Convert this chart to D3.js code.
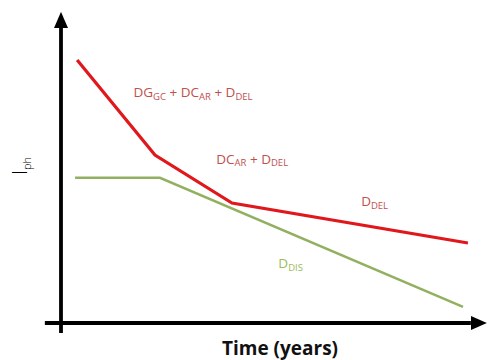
<!DOCTYPE html>
<html>
<head>
<meta charset="utf-8">
<script src="https://cdn.jsdelivr.net/npm/d3@7"></script>
<style>
  body { margin: 0; background: #fff; }
  text { font-family: "Open Sans", "DejaVu Sans", sans-serif; }
</style>
</head>
<body>
<svg id="chart" width="488" height="360"></svg>
<script>
// arbitrary units (0..100 on both axes)
var redTime  = [3.9, 22.7, 41.3, 98.3];
var redIph   = [86.8, 55.4, 39.6, 26.4];
var greenTime = [3.4, 23.9, 97.1];
var greenIph  = [47.9, 47.9, 5.3];

var labels = [
  {parts: [["DG", ""], ["GC", "sub"], [" + DC", ""], ["AR", "sub"], [" + D", ""], ["DEL", "sub"]], t: 17.5, v: 74.5, color: "#c0504d"},
  {parts: [["DC", ""], ["AR", "sub"], [" + D", ""], ["DEL", "sub"]], t: 37.5, v: 52.5, color: "#c0504d"},
  {parts: [["D", ""], ["DEL", "sub"]], t: 72.5, v: 38.5, color: "#c0504d"},
  {parts: [["D", ""], ["DIS", "sub"]], t: 52.5, v: 18, color: "#9bbb59"}
];

var svg = d3.select("#chart");

var x = d3.scaleLinear().domain([0, 100]).range([61, 475]);
var y = d3.scaleLinear().domain([0, 100]).range([323, 20]);

svg.append("defs").append("marker")
    .attr("id", "arrow")
    .attr("viewBox", "0 0 16 14")
    .attr("markerUnits", "userSpaceOnUse")
    .attr("refX", 0).attr("refY", 7)
    .attr("markerWidth", 16).attr("markerHeight", 14)
    .attr("orient", "auto")
    .append("path")
    .attr("d", "M0,0 L16,7 L0,14 Z")
    .attr("fill", "#000");

// axes (arrow tips at 12px from top and 487px from left)
svg.append("line")
    .attr("x1", x(0)).attr("y1", y(-3.3))
    .attr("x2", x(0)).attr("y2", y(97.4))
    .attr("stroke", "#000").attr("stroke-width", 3.8)
    .attr("marker-end", "url(#arrow)");

svg.append("line")
    .attr("x1", x(-3.9)).attr("y1", y(0))
    .attr("x2", x(99)).attr("y2", y(0))
    .attr("stroke", "#000").attr("stroke-width", 3.8)
    .attr("marker-end", "url(#arrow)");

var line = d3.line()
    .x(function(d) { return x(d[0]); })
    .y(function(d) { return y(d[1]); });

svg.append("path")
    .datum(d3.zip(greenTime, greenIph))
    .attr("d", line)
    .attr("fill", "none")
    .attr("stroke", "#92b060")
    .attr("stroke-width", 2.5);

svg.append("path")
    .datum(d3.zip(redTime, redIph))
    .attr("d", line)
    .attr("fill", "none")
    .attr("stroke", "#e0181c")
    .attr("stroke-width", 3.2);

var lab = svg.selectAll(".lab")
    .data(labels)
    .enter().append("text")
    .attr("class", "lab")
    .attr("x", function(d) { return x(d.t); })
    .attr("y", function(d) { return y(d.v); })
    .attr("font-size", 13.5)
    .attr("fill", function(d) { return d.color; });

lab.each(function(d) {
  var t = d3.select(this);
  d.parts.forEach(function(p, i) {
    var s = t.append("tspan").text(p[0]);
    if (p[1] === "sub") s.attr("font-size", 9.5).attr("dy", 2.5);
    else if (i > 0) s.attr("dy", -2.5);
  });
});

// axis titles
var yt = svg.append("text")
    .attr("transform", "translate(27,166) rotate(-90)")
    .attr("text-anchor", "middle")
    .attr("font-size", 20)
    .attr("font-weight", 300)
    .attr("fill", "#000");
yt.append("tspan").text("I");
yt.append("tspan").text("ph").attr("font-size", 11).attr("dy", 4);

svg.append("text")
    .attr("x", 280).attr("y", 355)
    .attr("text-anchor", "middle")
    .attr("font-family", "'Liberation Sans', Arial, sans-serif")
    .attr("font-size", 19)
    .attr("font-weight", "bold")
    .attr("fill", "#111")
    .text("Time (years)");
</script>
</body>
</html>
